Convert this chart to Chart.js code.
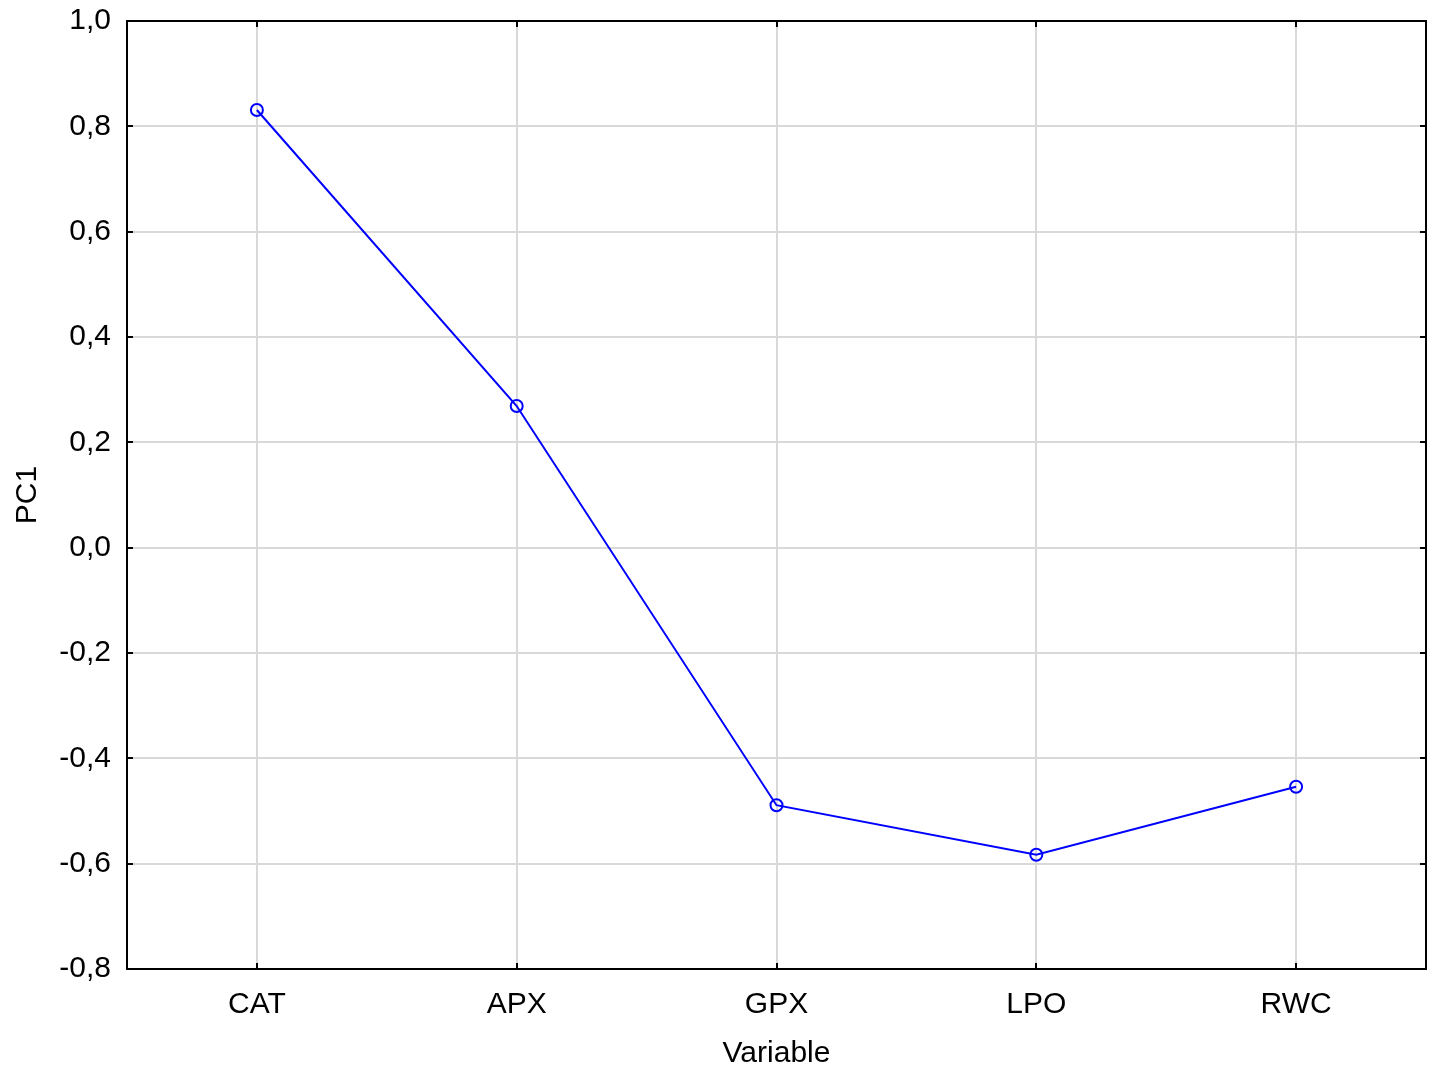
<!DOCTYPE html>
<html>
<head>
<meta charset="utf-8">
<script src="https://cdn.jsdelivr.net/npm/chart.js@4"></script>
<style>
html,body{margin:0;padding:0;background:#fff;overflow:hidden;}
#wrap{width:1434px;height:1068px;}
canvas{display:block;}
</style>
</head>
<body>
<div id="wrap"><canvas id="c" width="1434" height="1068"></canvas></div>
<script>
const categories = ["CAT", "APX", "GPX", "LPO", "RWC"];
const pc1Values = [0.831, 0.269, -0.489, -0.583, -0.454];
const yTicks = [-0.8, -0.6, -0.4, -0.2, 0.0, 0.2, 0.4, 0.6, 0.8, 1.0];
const xTitle = "Variable";
const yTitle = "PC1";

const FONT = "'Liberation Sans', Arial, sans-serif";

const framePlugin = {
  id: 'frame',
  afterDraw(chart) {
    const {ctx, chartArea: a, scales} = chart;
    ctx.save();
    ctx.strokeStyle = '#000';
    ctx.lineWidth = 2;
    const L = 6;
    ctx.beginPath();
    scales.y.ticks.forEach(t => {
      const y = Math.round(scales.y.getPixelForValue(t.value));
      ctx.moveTo(a.left, y); ctx.lineTo(a.left + L, y);
      ctx.moveTo(a.right, y); ctx.lineTo(a.right - L, y);
    });
    scales.x.ticks.forEach((t, i) => {
      const x = Math.round(scales.x.getPixelForValue(i));
      ctx.moveTo(x, a.bottom); ctx.lineTo(x, a.bottom - L);
      ctx.moveTo(x, a.top); ctx.lineTo(x, a.top + L);
    });
    ctx.stroke();
    ctx.strokeRect(a.left, a.top, a.right - a.left, a.bottom - a.top);
    ctx.restore();
  }
};

new Chart(document.getElementById('c'), {
  type: 'line',
  data: {
    labels: categories,
    datasets: [{
      data: pc1Values,
      borderColor: 'rgb(0,0,255)',
      borderWidth: 2,
      pointRadius: 6,
      pointBorderWidth: 2,
      pointBackgroundColor: 'rgba(255,255,255,0)',
      pointBorderColor: 'rgb(0,0,255)',
      tension: 0,
      fill: false
    }]
  },
  options: {
    responsive: false,
    animation: false,
    devicePixelRatio: 1,
    layout: {padding: {top: 21, right: 5, left: 0, bottom: 0}},
    plugins: {legend: {display: false}, tooltip: {enabled: false}},
    scales: {
      x: {
        offset: true,
        grid: {color: '#d9d9d9', lineWidth: 2, drawTicks: false, offset: false},
        border: {display: false},
        ticks: {color: '#000', font: {family: FONT, size: 30}, padding: 18, maxRotation: 0},
        title: {display: true, text: xTitle, color: '#000', font: {family: FONT, size: 30}, padding: {top: 9, bottom: -4}},
        afterFit(s) { s.height = 99; s.paddingLeft = 0; s.paddingRight = 0; }
      },
      y: {
        min: -0.8, max: 1.0,
        afterBuildTicks(s) { s.ticks = yTicks.map(v => ({value: v})); },
        grid: {color: '#d9d9d9', lineWidth: 2, drawTicks: false},
        border: {display: false},
        ticks: {
          color: '#000', font: {family: FONT, size: 30}, padding: 16,
          callback: v => v.toFixed(1).replace('.', ',')
        },
        title: {display: true, text: yTitle, color: '#000', font: {family: FONT, size: 30}, padding: {top: 10, bottom: 0}},
        afterFit(s) { s.width = 127; s.paddingTop = 0; s.paddingBottom = 0; }
      }
    }
  },
  plugins: [framePlugin]
});
</script>
</body>
</html>
